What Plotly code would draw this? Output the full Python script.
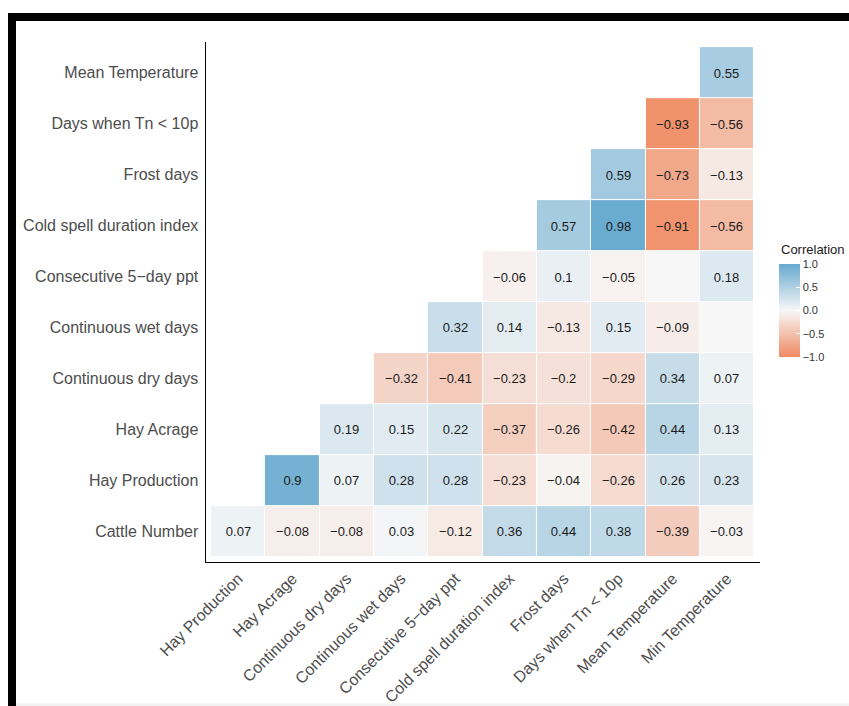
import plotly.graph_objects as go

# Variables along each axis (columns left→right, rows bottom→top)
col_labels = [
    "Hay Production", "Hay Acrage", "Continuous dry days", "Continuous wet days",
    "Consecutive 5−day ppt", "Cold spell duration index", "Frost days",
    "Days when Tn < 10p", "Mean Temperature", "Min Temperature",
]
row_labels = [
    "Cattle Number", "Hay Production", "Hay Acrage", "Continuous dry days",
    "Continuous wet days", "Consecutive 5−day ppt", "Cold spell duration index",
    "Frost days", "Days when Tn < 10p", "Mean Temperature",
]

# Lower-triangle correlation values, one list per row (None = not shown)
r_cattle = [0.07, -0.08, -0.08, 0.03, -0.12, 0.36, 0.44, 0.38, -0.39, -0.03]
r_hay_prod = [None, 0.9, 0.07, 0.28, 0.28, -0.23, -0.04, -0.26, 0.26, 0.23]
r_hay_acr = [None, None, 0.19, 0.15, 0.22, -0.37, -0.26, -0.42, 0.44, 0.13]
r_cdd = [None, None, None, -0.32, -0.41, -0.23, -0.2, -0.29, 0.34, 0.07]
r_cwd = [None, None, None, None, 0.32, 0.14, -0.13, 0.15, -0.09, 0.0]
r_r5d = [None, None, None, None, None, -0.06, 0.1, -0.05, 0.0, 0.18]
r_csdi = [None, None, None, None, None, None, 0.57, 0.98, -0.91, -0.56]
r_frost = [None, None, None, None, None, None, None, 0.59, -0.73, -0.13]
r_tn10 = [None, None, None, None, None, None, None, None, -0.93, -0.56]
r_tmean = [None, None, None, None, None, None, None, None, None, 0.55]

# Cells whose label is left blank (row index, column index)
blank_labels = [(4, 9), (5, 8)]

# Colour-bar tick values and their labels
bar_ticks = [-1, -0.5, 0, 0.5, 1]
bar_ticktext = ["−1.0", "−0.5", "0.0", "0.5", "1.0"]

z = [r_cattle, r_hay_prod, r_hay_acr, r_cdd, r_cwd, r_r5d, r_csdi, r_frost, r_tn10, r_tmean]


def fmt(v):
    if v is None:
        return ""
    s = f"{v:.2f}".rstrip("0").rstrip(".")
    return s.replace("-", "−")


text = [[fmt(v) for v in row] for row in z]
for (ri, ci) in blank_labels:
    text[ri][ci] = ""

W, H = 849, 706
# plot-area edges in pixels
L, R, T, B = 205.5, 759.5, 42, 562


def px(x):
    return x / W


def py(y):
    return 1 - y / H


FONT = "Liberation Sans, Arial, Helvetica, sans-serif"

fig = go.Figure(
    go.Heatmap(
        z=z,
        x=list(range(len(col_labels))),
        y=list(range(len(row_labels))),
        text=text,
        texttemplate="%{text}",
        textfont=dict(family=FONT, size=13, color="#1a1a1a"),
        colorscale=[[0.0, "#ef8a62"], [0.5, "#f7f7f7"], [1.0, "#67a9cf"]],
        zmin=-1,
        zmax=1,
        xgap=1,
        ygap=1,
        hoverongaps=False,
        colorbar=dict(
            x=px(779),
            xanchor="left",
            y=py(264),
            yanchor="top",
            lenmode="pixels",
            len=93,
            thickness=21,
            xpad=0,
            ypad=0,
            outlinewidth=0,
            tickvals=bar_ticks,
            ticktext=bar_ticktext,
            ticks="inside",
            ticklen=4,
            tickcolor="white",
            tickfont=dict(family=FONT, size=11, color="#333333"),
        ),
    )
)

# colour-bar heading
fig.add_annotation(
    text="Correlation", xref="paper", yref="paper",
    x=px(779), y=py(250), xanchor="left", yanchor="middle",
    showarrow=False, font=dict(family=FONT, size=13, color="#1a1a1a"),
)

shapes = [
    # frame bands
    dict(type="rect", xref="paper", yref="paper",
         x0=px(8), x1=px(849), y0=py(21), y1=py(13),
         fillcolor="black", line_width=0, layer="above"),
    dict(type="rect", xref="paper", yref="paper",
         x0=px(8), x1=px(16), y0=py(706), y1=py(13),
         fillcolor="black", line_width=0, layer="above"),
    dict(type="rect", xref="paper", yref="paper",
         x0=px(16), x1=px(849), y0=py(706), y1=py(703.5),
         fillcolor="#f2f2f2", line_width=0, layer="above"),
]

fig.update_layout(
    width=W,
    height=H,
    margin=dict(l=0, r=0, t=0, b=0, pad=0, autoexpand=False),
    paper_bgcolor="white",
    plot_bgcolor="white",
    font=dict(family=FONT),
    shapes=shapes,
    xaxis=dict(
        domain=[px(L), px(R)],
        range=[-0.6, 9.6],
        tickvals=list(range(len(col_labels))),
        ticktext=col_labels,
        tickangle=-45,
        tickfont=dict(family=FONT, size=16, color="#4d4d4d"),
        showgrid=False,
        zeroline=False,
        showline=True,
        linecolor="black",
        linewidth=1,
        ticks="",
        automargin=False,
    ),
    yaxis=dict(
        domain=[py(B), py(T)],
        range=[-0.6, 9.6],
        tickvals=list(range(len(row_labels))),
        ticktext=row_labels,
        tickfont=dict(family=FONT, size=16, color="#4d4d4d"),
        showgrid=False,
        zeroline=False,
        showline=True,
        linecolor="black",
        linewidth=1,
        ticks="",
        ticklabelstandoff=3,
        automargin=False,
    ),
)

fig.write_html("out.html")
